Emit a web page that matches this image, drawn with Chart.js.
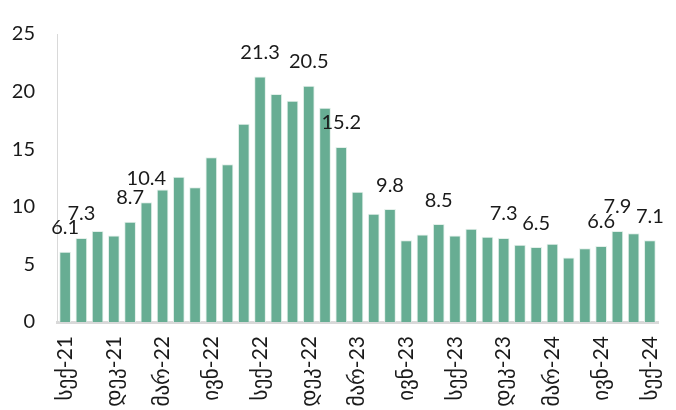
<!DOCTYPE html>
<html>
<head>
<meta charset="utf-8">
<script src="https://cdn.jsdelivr.net/npm/chart.js@4/dist/chart.umd.min.js"></script>
<style>
  html, body { margin: 0; padding: 0; background: #fff; }
  #wrap { width: 676px; height: 410px; }
</style>
</head>
<body>
<div id="wrap"><canvas id="chart" width="676" height="410"></canvas></div>
<script>
// Monthly values, Sep-21 .. Sep-24
const months = [
  'სექ-21', 'ოქტ-21', 'ნოე-21', 'დეკ-21', 'იან-22', 'თებ-22', 'მარ-22', 'აპრ-22', 'მაი-22',
  'ივნ-22', 'ივლ-22', 'აგვ-22', 'სექ-22', 'ოქტ-22', 'ნოე-22', 'დეკ-22', 'იან-23', 'თებ-23',
  'მარ-23', 'აპრ-23', 'მაი-23', 'ივნ-23', 'ივლ-23', 'აგვ-23', 'სექ-23', 'ოქტ-23', 'ნოე-23',
  'დეკ-23', 'იან-24', 'თებ-24', 'მარ-24', 'აპრ-24', 'მაი-24', 'ივნ-24', 'ივლ-24', 'აგვ-24',
  'სექ-24'
];
const values = [
  6.1, 7.3, 7.9, 7.5, 8.7, 10.4, 11.5, 12.6, 11.7,
  14.3, 13.7, 17.2, 21.3, 19.8, 19.2, 20.5, 18.6, 15.2,
  11.3, 9.4, 9.8, 7.1, 7.6, 8.5, 7.5, 8.1, 7.4,
  7.3, 6.7, 6.5, 6.8, 5.6, 6.4, 6.6, 7.9, 7.7,
  7.1
];
// bars that carry a value label
const labelledIdx = [0, 1, 4, 5, 12, 15, 17, 20, 23, 27, 29, 33, 34, 36];
const yTicks = [0, 5, 10, 15, 20, 25];

const FONT = "Lato, 'DejaVu Sans', sans-serif";

const valueLabels = {
  id: 'valueLabels',
  afterDatasetsDraw(chart) {
    const ctx = chart.ctx;
    const meta = chart.getDatasetMeta(0);
    ctx.save();
    ctx.font = '20px ' + FONT;
    ctx.fillStyle = '#1a1a1a';
    ctx.textAlign = 'center';
    ctx.textBaseline = 'middle';
    labelledIdx.forEach((i) => {
      const bar = meta.data[i];
      ctx.fillText(values[i].toFixed(1), bar.x, bar.y - 24);
    });
    ctx.restore();
  },
};

new Chart(document.getElementById('chart').getContext('2d'), {
  type: 'bar',
  data: {
    labels: months,
    datasets: [{
      data: values,
      backgroundColor: '#67ad93',
      borderColor: '#e3f0ea',
      borderWidth: { top: 1, left: 1, right: 1, bottom: 0 },
      borderSkipped: 'bottom',
      categoryPercentage: 0.8,
      barPercentage: 0.9,
    }],
  },
  options: {
    responsive: false,
    animation: false,
    layout: { padding: { top: 0, right: 18, left: 0, bottom: 2 } },
    plugins: {
      legend: { display: false },
      tooltip: { enabled: false },
    },
    scales: {
      y: {
        min: 0,
        max: 25,
        afterBuildTicks: (axis) => { axis.ticks = yTicks.map((v) => ({ value: v })); },
        afterFit: (axis) => { axis.width = 57; },
        grid: { display: false, drawTicks: false },
        border: { display: true, color: '#d9d9d9', width: 1 },
        ticks: {
          padding: 22,
          color: '#1a1a1a',
          font: { family: FONT, size: 20 },
        },
      },
      x: {
        afterFit: (axis) => {
          axis.height = 86;
          axis.paddingLeft = 0;
          axis.paddingRight = 0;
        },
        grid: { display: false, drawTicks: false },
        border: { display: true, color: '#d9d9d9', width: 3 },
        ticks: {
          autoSkip: false,
          minRotation: 90,
          maxRotation: 90,
          padding: 14,
          color: '#1a1a1a',
          font: { family: FONT, size: 21 },
          callback: (val, i) => (i % 3 === 0 ? months[i] : ''),
        },
      },
    },
  },
  plugins: [valueLabels],
});
</script>
</body>
</html>
